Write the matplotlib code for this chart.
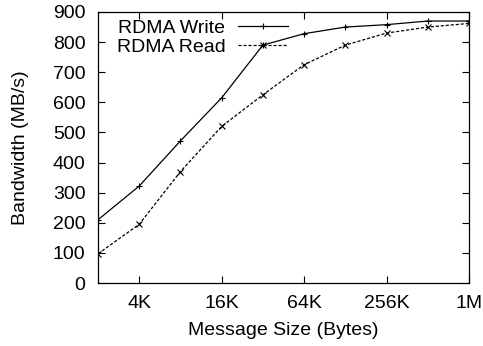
import matplotlib
matplotlib.use("Agg")
import matplotlib.pyplot as plt
from matplotlib.ticker import NullLocator

plt.rcParams['font.family'] = ['Liberation Sans', 'DejaVu Sans']

# Message sizes in bytes (2K .. 1M)
sizes = [2048, 4096, 8192, 16384, 32768, 65536, 131072, 262144, 524288, 1048576]
write_bw = [210, 322, 472, 615, 790, 828, 850, 858, 870, 870]
read_bw = [97, 195, 370, 520, 625, 725, 790, 830, 850, 862]

xtick_vals = [4096, 16384, 65536, 262144, 1048576]
xtick_labels = ["4K", "16K", "64K", "256K", "1M"]
yticks = list(range(0, 901, 100))

FS = 14

fig = plt.figure(figsize=(4.83, 3.46), dpi=100)
ax = fig.add_axes([98 / 483, (346 - 283) / 346, (469 - 98) / 483, (283 - 12) / 346])

ax.plot(sizes, write_bw, color='black', lw=0.9, marker='+', ms=4, mew=0.8,
        label='RDMA Write')
ax.plot(sizes, read_bw, color='black', lw=0.9, ls=(0, (2.5, 1.5)), marker='x',
        ms=4, mew=0.8, label='RDMA Read')

ax.set_xscale('log', base=2)
ax.set_xlim(2048, 1048576)
ax.set_ylim(0, 900)
ax.set_xticks(xtick_vals)
ax.set_xticklabels(xtick_labels)
ax.xaxis.set_minor_locator(NullLocator())
ax.set_yticks(yticks)

ax.tick_params(direction='in', top=True, right=True, length=5, width=0.8,
               labelsize=FS, pad=9)
for s in ax.spines.values():
    s.set_linewidth(0.9)

ax.set_xlabel('Message Size (Bytes)', fontsize=FS, labelpad=7)
ax.set_ylabel('Bandwidth (MB/s)', fontsize=FS, labelpad=17)

leg = ax.legend(loc='upper left', frameon=False, markerfirst=False,
                fontsize=FS, handlelength=2.6, handletextpad=0.65,
                labelspacing=0.05, borderaxespad=0.0, borderpad=0.0,
                bbox_to_anchor=(0.05, 0.972))

fig.savefig('out.png', dpi=100)
